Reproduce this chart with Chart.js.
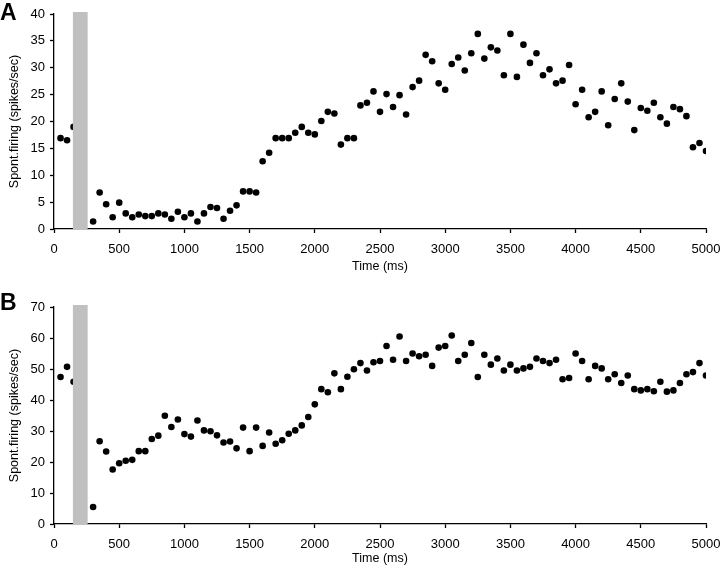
<!DOCTYPE html>
<html>
<head>
<meta charset="utf-8">
<script src="https://cdn.jsdelivr.net/npm/chart.js@4/dist/chart.umd.min.js"></script>
<style>
  body { margin: 0; background: #fff; }
  #wrap { position: relative; width: 720px; height: 567px; }
  .panel { position: absolute; left: 0; width: 720px; }
  .tag { position: absolute; left: 0; font: bold 23px "Liberation Sans", Arial, sans-serif; color: #000; }
</style>
</head>
<body>
<div id="wrap">
  <div class="panel" style="top:0;height:283px"><canvas id="chartA" width="720" height="283"></canvas></div>
  <div class="panel" style="top:283px;height:284px"><canvas id="chartB" width="720" height="284"></canvas></div>
  <div class="tag" style="top:-1px">A</div>
  <div class="tag" style="top:289px">B</div>
</div>
<script>
// time bins (ms); bins 200 and 250 sit under the stimulus bar
const times = [50, 100, 150,
  300, 350, 400, 450, 500, 550, 600, 650, 700, 750, 800, 850, 900, 950, 1000,
  1050, 1100, 1150, 1200, 1250, 1300, 1350, 1400, 1450, 1500, 1550, 1600, 1650, 1700,
  1750, 1800, 1850, 1900, 1950, 2000, 2050, 2100, 2150, 2200, 2250, 2300, 2350, 2400,
  2450, 2500, 2550, 2600, 2650, 2700, 2750, 2800, 2850, 2900, 2950, 3000, 3050, 3100,
  3150, 3200, 3250, 3300, 3350, 3400, 3450, 3500, 3550, 3600, 3650, 3700, 3750, 3800,
  3850, 3900, 3950, 4000, 4050, 4100, 4150, 4200, 4250, 4300, 4350, 4400, 4450, 4500,
  4550, 4600, 4650, 4700, 4750, 4800, 4850, 4900, 4950, 5000];

const firingA = [16.9, 16.5, 19.0,
  1.4, 6.8, 4.6, 2.2, 4.9, 2.9, 2.2, 2.7, 2.4, 2.4, 2.9, 2.7, 1.9, 3.2, 2.2,
  2.9, 1.4, 2.9, 4.1, 3.9, 1.9, 3.4, 4.4, 7.0, 7.0, 6.8, 12.6, 14.2, 16.9,
  16.9, 16.9, 17.9, 19.0, 17.9, 17.6, 20.1, 21.8, 21.5, 15.7, 16.9, 16.9, 23.0, 23.5,
  25.6, 21.8, 25.1, 22.7, 24.9, 21.3, 26.4, 27.6, 32.4, 31.2, 27.1, 25.9, 30.7, 31.9,
  29.5, 32.7, 36.3, 31.7, 33.8, 33.2, 28.6, 36.3, 28.3, 34.3, 30.9, 32.7, 28.6, 29.7,
  27.1, 27.6, 30.5, 23.2, 25.9, 20.8, 21.8, 25.6, 19.3, 24.2, 27.1, 23.7, 18.4, 22.5,
  22.0, 23.5, 20.8, 19.6, 22.7, 22.3, 21.0, 15.2, 16.0, 14.5];

const firingB = [47.4, 50.7, 45.9,
  5.5, 26.7, 23.4, 17.6, 19.6, 20.4, 20.7, 23.5, 23.5, 27.4, 28.5, 34.9, 31.3, 33.7, 29.0,
  28.2, 33.4, 30.2, 29.9, 28.6, 26.3, 26.6, 24.4, 31.1, 23.5, 31.1, 25.2, 29.5, 25.9,
  27.0, 29.1, 30.2, 31.8, 34.5, 38.6, 43.5, 42.5, 48.6, 43.5, 47.5, 49.9, 51.9, 49.5,
  52.2, 52.6, 57.4, 53.0, 60.5, 52.6, 55.0, 54.1, 54.6, 51.0, 56.9, 57.4, 60.8, 52.6,
  54.6, 58.4, 47.4, 54.6, 51.4, 53.4, 49.5, 51.4, 49.5, 50.2, 50.7, 53.4, 52.6, 51.9,
  53.0, 46.7, 47.1, 55.0, 52.6, 46.7, 51.0, 50.2, 46.7, 48.3, 45.5, 47.9, 43.5, 43.1,
  43.5, 42.8, 45.9, 42.7, 43.1, 45.5, 48.3, 49.0, 51.9, 47.9];

const stimulus = [145, 258]; // grey bar, ms
const xTicks = [0, 500, 1000, 1500, 2000, 2500, 3000, 3500, 4000, 4500, 5000];

const fontFamily = '"Liberation Sans", Arial, sans-serif';

const stimulusBar = {
  id: 'stimulusBar',
  afterDatasetsDraw(chart) {
    const { ctx, chartArea, scales } = chart;
    const x1 = scales.x.getPixelForValue(stimulus[0]);
    const x2 = scales.x.getPixelForValue(stimulus[1]);
    ctx.save();
    ctx.fillStyle = '#c0c0c0';
    ctx.fillRect(x1, chartArea.top - 2, x2 - x1, chartArea.bottom - chartArea.top + 2);
    ctx.restore();
  }
};

function makeChart(id, values, yMax, topPad, xAxisHeight, titlePad) {
  const pts = times.map((t, i) => ({ x: t, y: values[i] }));
  return new Chart(document.getElementById(id), {
    type: 'scatter',
    data: {
      datasets: [{
        data: pts,
        backgroundColor: '#000',
        borderWidth: 0,
        pointRadius: 3.3,
        pointHoverRadius: 3.3
      }]
    },
    options: {
      responsive: false,
      animation: false,
      layout: { padding: { left: 0, right: 0, top: topPad, bottom: 0 } },
      plugins: { legend: { display: false }, tooltip: { enabled: false } },
      scales: {
        x: {
          type: 'linear',
          min: 0, max: 5000,
          afterBuildTicks: (s) => { s.ticks = xTicks.map(v => ({ value: v })); },
          afterFit: (s) => { s.height = xAxisHeight; s.paddingRight = 14; s.paddingLeft = 0; },
          grid: { drawOnChartArea: false, drawTicks: true, tickLength: 4, color: '#000', tickWidth: 1.3 },
          border: { color: '#000', width: 1.3 },
          ticks: { color: '#000', padding: 9, maxRotation: 0, callback: (v) => String(v), font: { family: fontFamily, size: 13 } },
          title: { display: true, text: 'Time (ms)', color: '#000', padding: { top: 0, bottom: titlePad }, font: { family: fontFamily, size: 12.5 } }
        },
        y: {
          min: 0, max: yMax,
          ticks: { stepSize: yMax === 40 ? 5 : 10, color: '#000', padding: 5, callback: (v) => String(v), font: { family: fontFamily, size: 13 } },
          afterFit: (s) => { s.width = 54; },
          grid: { drawOnChartArea: false, drawTicks: true, tickLength: 4, color: '#000', tickWidth: 1.3 },
          border: { color: '#000', width: 1.3 },
          title: { display: true, text: 'Spont.firing (spikes/sec)', color: '#000', padding: { top: 7, bottom: 0 }, font: { family: fontFamily, size: 12.5 } }
        }
      }
    },
    plugins: [stimulusBar]
  });
}

makeChart('chartA', firingA, 40, 14, 54, 9);
makeChart('chartB', firingB, 70, 24, 43, 1);
</script>
</body>
</html>
